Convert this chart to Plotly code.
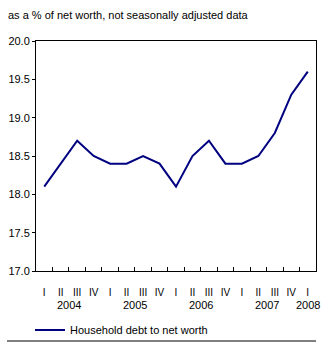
import plotly.graph_objects as go

quarters = ["I", "II", "III", "IV", "I", "II", "III", "IV", "I", "II", "III", "IV",
            "I", "II", "III", "IV", "I"]
values = [18.1, 18.4, 18.7, 18.5, 18.4, 18.4, 18.5, 18.4, 18.1, 18.5, 18.7, 18.4,
          18.4, 18.5, 18.8, 19.3, 19.6]
years = ["2004", "2005", "2006", "2007", "2008"]
year_pos = [1.5, 5.5, 9.5, 13.5, 16]
y_ticks = [17.0, 17.5, 18.0, 18.5, 19.0, 19.5, 20.0]

x = list(range(len(values)))
font = "Liberation Sans, Arial, sans-serif"

fig = go.Figure()
fig.add_trace(go.Scatter(x=x, y=values, mode="lines", name="Household debt to net worth",
                         line=dict(color="#000080", width=2)))

W, H = 321, 347
L, R, T, B = 36, 5, 41, 76
pw, ph = W - L - R, H - T - B

def px(xpix):
    return (xpix - L) / pw

def py(ypix):
    return (H - B - ypix) / ph

annotations = [dict(text="as a % of net worth, not seasonally adjusted data", xref="paper", yref="paper",
                    x=px(6), y=py(15), xanchor="left", yanchor="middle", showarrow=False,
                    font=dict(size=11, color="black", family=font))]
for yr, pos in zip(years, year_pos):
    annotations.append(dict(text=yr, xref="x", yref="paper", x=pos, y=py(305), xanchor="center",
                            yanchor="middle", showarrow=False, font=dict(size=11, color="black", family=font)))

fig.update_layout(
    width=W, height=H, margin=dict(l=L, r=R, t=T, b=B, autoexpand=False),
    paper_bgcolor="white", plot_bgcolor="white",
    font=dict(family=font, size=11, color="black"),
    showlegend=True,
    legend=dict(x=px(30), y=py(330), xanchor="left", yanchor="middle", bgcolor="rgba(0,0,0,0)",
                font=dict(size=11, color="black", family=font), borderwidth=0),
    annotations=annotations,
    shapes=[dict(type="line", xref="paper", yref="paper", x0=px(7), x1=px(316), y0=py(341), y1=py(341),
                 line=dict(color="black", width=1))],
    xaxis=dict(range=[-0.5, len(values) - 0.5], tickvals=x, ticktext=quarters, ticks="",
               ticklabelstandoff=12, showgrid=False, zeroline=False,
               showline=True, linecolor="black", linewidth=1, mirror=True,
               tickfont=dict(size=10, color="black", family=font),
               minor=dict(tickvals=[i + 0.5 for i in range(len(values) - 1)], ticks="inside",
                          ticklen=4, tickcolor="black", showgrid=False)),
    yaxis=dict(range=[17.0, 20.0], tickvals=y_ticks, ticktext=[f"{v:.1f}" for v in y_ticks],
               ticks="outside", ticklen=3, tickcolor="black", showgrid=False, zeroline=False,
               showline=True, linecolor="black", linewidth=1, mirror=True,
               tickfont=dict(size=11, color="black", family=font)),
)

fig.write_html("out.html")
